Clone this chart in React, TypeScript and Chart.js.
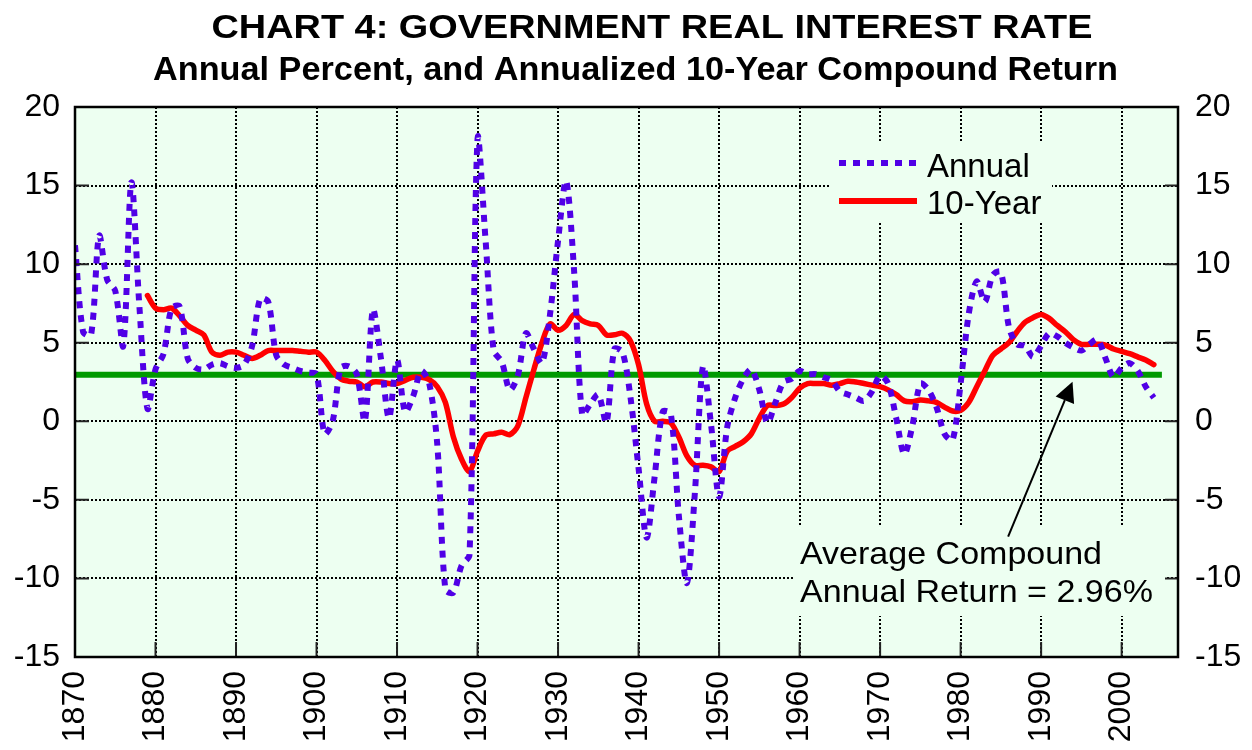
import React, { useEffect, useRef } from 'react';
import { Chart, registerables } from 'chart.js';

Chart.register(...registerables);

// ---------- DATA ----------
const ANNUAL_START_YEAR = 1870;
const annualRate = [
  11.2, 5.7, 5.5, 11.8, 9.0, 8.3, 4.8, 15.2, 7.3, 0.8, // 1870-1879
  3.3, 4.3, 7.2, 7.3, 4.0, 3.4, 3.3, 3.6, 3.7, 3.5, // 1880-1889
  3.4, 3.6, 4.8, 7.8, 7.6, 4.2, 3.6, 3.4, 3.2, 3.1, // 1890-1899
  3.0, -0.8, 0.0, 3.4, 3.5, 3.0, 0.0, 7.1, 4.0, 0.2, // 1900-1909
  3.9, 0.6, 1.6, 3.2, 2.4, -1.5, -10.7, -10.9, -9.2, -8.5, // 1910-1919
  18.0, 11.5, 4.5, 3.8, 2.0, 2.9, 5.6, 4.6, 3.7, 6.8, // 1920-1929
  11.5, 15.3, 9.5, 0.4, 1.1, 1.7, -0.1, 4.6, 4.4, 1.5, // 1930-1939
  -3.0, -7.4, -3.5, 0.6, 0.5, -6.0, -10.3, -4.5, 3.5, -0.2, // 1940-1949
  -4.8, -0.4, 1.5, 2.7, 3.3, 2.0, -0.1, 1.2, 2.5, 2.7, // 1950-1959
  3.2, 3.0, 3.0, 2.8, 2.6, 1.9, 1.7, 1.5, 1.3, 1.9, // 1960-1969
  2.9, 2.4, 0.2, -2.1, -0.3, 2.4, 2.0, 0.9, -0.8, -1.2, // 1970-1979
  2.4, 6.8, 8.9, 7.6, 9.3, 9.5, 6.0, 4.9, 4.8, 4.1, // 1980-1989
  4.8, 5.6, 5.4, 5.0, 4.7, 4.5, 4.9, 5.2, 4.0, 2.8, // 1990-1999
  3.4, 3.7, 3.2, 2.2, 1.5, // 2000-2004
];

const TEN_YEAR_START_YEAR = 1879;
const tenYearReturn = [
  8.0, // 1879
  7.2, 7.1, 7.2, 6.7, 6.1, 5.8, 5.5, 4.4, 4.2, 4.4, // 1880-1889
  4.4, 4.2, 4.0, 4.2, 4.5, 4.5, 4.5, 4.5, 4.45, 4.4, // 1890-1899
  4.4, 3.9, 3.2, 2.7, 2.55, 2.5, 2.2, 2.5, 2.5, 2.4, // 1900-1909
  2.4, 2.6, 2.8, 2.8, 2.65, 2.2, 1.2, -1.0, -2.4, -3.2, // 1910-1919
  -1.9, -0.9, -0.8, -0.7, -0.85, -0.3, 1.5, 3.3, 5.0, 6.2, // 1920-1929
  5.8, 6.1, 6.8, 6.4, 6.2, 6.1, 5.5, 5.5, 5.6, 5.1, // 1930-1939
  3.6, 1.1, 0.0, 0.0, -0.1, -1.0, -2.2, -2.8, -2.8, -2.9, // 1940-1949
  -3.2, -1.9, -1.6, -1.3, -0.8, 0.2, 1.0, 1.0, 1.1, 1.5, // 1950-1959
  2.1, 2.4, 2.4, 2.4, 2.3, 2.4, 2.55, 2.5, 2.4, 2.3, // 1960-1969
  2.2, 2.0, 1.7, 1.3, 1.25, 1.35, 1.3, 1.2, 0.9, 0.65, // 1970-1979
  0.7, 1.2, 2.2, 3.2, 4.2, 4.6, 5.0, 5.7, 6.3, 6.6, // 1980-1989
  6.8, 6.55, 6.1, 5.7, 5.2, 4.9, 4.9, 4.9, 4.85, 4.6, // 1990-1999
  4.45, 4.3, 4.1, 3.9, 3.6, // 2000-2004
];

const averageReturn = 2.96;
const averageSpanYears = [1870, 2005];

const xTickYears = [1870, 1880, 1890, 1900, 1910, 1920, 1930, 1940, 1950, 1960, 1970, 1980, 1990, 2000];
const yTickValues = [-15, -10, -5, 0, 5, 10, 15, 20];
const X_MIN = 1870;
const X_MAX = 2007;
const Y_MIN = -15;
const Y_MAX = 20;

const titleText = 'CHART 4: GOVERNMENT REAL INTEREST RATE';
const subtitleText = 'Annual Percent, and Annualized 10-Year Compound Return';
const legendLabels = ['Annual', '10-Year'];
const noteLines = ['Average Compound', 'Annual Return = 2.96%'];

// ---------- STYLE ----------
const FONT = "'Liberation Sans', Arial, Helvetica, sans-serif";
const BLUE = '#5000E6';
const RED = '#FF0000';
const GREEN = '#009A00';
const PLOT_BG = '#EDFFF1';
const DOT_DASH = [7, 7];

function drawFittedText(
  ctx: CanvasRenderingContext2D,
  text: string,
  x: number,
  baseline: number,
  font: string,
  targetWidth: number,
  align: 'left' | 'center'
) {
  ctx.save();
  ctx.font = font;
  const w = ctx.measureText(text).width;
  const sx = targetWidth / w;
  ctx.translate(x, baseline);
  ctx.scale(sx, 1);
  ctx.textAlign = align;
  ctx.textBaseline = 'alphabetic';
  ctx.fillStyle = '#000';
  ctx.fillText(text, 0, 0);
  ctx.restore();
}

const decorPlugin = {
  id: 'decor',
  beforeDraw(chart: any) {
    const { ctx, chartArea: a } = chart;
    ctx.save();
    ctx.fillStyle = '#FFFFFF';
    ctx.fillRect(0, 0, chart.width, chart.height);
    ctx.fillStyle = PLOT_BG;
    ctx.fillRect(a.left, a.top, a.right - a.left, a.bottom - a.top);
    ctx.restore();
  },
  afterDraw(chart: any) {
    const { ctx, chartArea: a } = chart;
    const xs = chart.scales.x;
    const ys = chart.scales.y;

    // Legend box
    ctx.save();
    ctx.fillStyle = PLOT_BG;
    ctx.fillRect(829, 141, 223, 81);
    ctx.lineWidth = 6;
    ctx.strokeStyle = BLUE;
    ctx.setLineDash(DOT_DASH);
    ctx.beginPath();
    ctx.moveTo(839, 163);
    ctx.lineTo(918, 163);
    ctx.stroke();
    ctx.setLineDash([]);
    ctx.strokeStyle = RED;
    ctx.beginPath();
    ctx.moveTo(839, 201);
    ctx.lineTo(917, 201);
    ctx.stroke();
    ctx.fillStyle = '#000';
    ctx.font = `33px ${FONT}`;
    ctx.textAlign = 'left';
    ctx.textBaseline = 'alphabetic';
    ctx.fillText(legendLabels[0], 927, 177);
    ctx.fillText(legendLabels[1], 927, 214);
    ctx.restore();

    // Annotation box
    ctx.save();
    ctx.fillStyle = PLOT_BG;
    ctx.fillRect(793, 525, 372, 91);
    ctx.restore();
    drawFittedText(ctx, noteLines[0], 800, 564, `32px ${FONT}`, 302, 'left');
    drawFittedText(ctx, noteLines[1], 800, 602, `32px ${FONT}`, 353, 'left');

    // Arrow pointing to the average line
    const tipX = xs.getPixelForValue(1993.9);
    const tipY = ys.getPixelForValue(averageReturn) + 7;
    const tailX = xs.getPixelForValue(1985.9);
    const tailY = ys.getPixelForValue(-7.34);
    const dx = tipX - tailX;
    const dy = tipY - tailY;
    const len = Math.hypot(dx, dy);
    const ux = dx / len;
    const uy = dy / len;
    const headLen = 20;
    const headHalf = 10;
    const bx = tipX - ux * headLen;
    const by = tipY - uy * headLen;
    ctx.save();
    ctx.strokeStyle = '#000';
    ctx.lineWidth = 2;
    ctx.beginPath();
    ctx.moveTo(tailX, tailY);
    ctx.lineTo(bx, by);
    ctx.stroke();
    ctx.fillStyle = '#000';
    ctx.beginPath();
    ctx.moveTo(tipX, tipY);
    ctx.lineTo(bx - uy * headHalf, by + ux * headHalf);
    ctx.lineTo(bx + uy * headHalf, by - ux * headHalf);
    ctx.closePath();
    ctx.fill();
    ctx.restore();

    // Inside tick marks
    ctx.save();
    ctx.strokeStyle = '#222';
    ctx.lineWidth = 2;
    ctx.beginPath();
    yTickValues.forEach((v) => {
      const py = ys.getPixelForValue(v);
      ctx.moveTo(a.left, py);
      ctx.lineTo(a.left + 14, py);
      ctx.moveTo(a.right - 13, py);
      ctx.lineTo(a.right, py);
    });
    xTickYears.forEach((yr) => {
      const px = xs.getPixelForValue(yr);
      ctx.moveTo(px, a.bottom);
      ctx.lineTo(px, a.bottom - 15);
    });
    ctx.stroke();
    ctx.restore();

    // Plot frame
    ctx.save();
    ctx.strokeStyle = '#000';
    ctx.lineWidth = 2.5;
    ctx.strokeRect(a.left, a.top, a.right - a.left, a.bottom - a.top);
    ctx.restore();

    // Titles
    drawFittedText(ctx, titleText, 652, 38, `bold 32.5px ${FONT}`, 881, 'center');
    drawFittedText(ctx, subtitleText, 635.5, 80, `bold 32.5px ${FONT}`, 965, 'center');
  },
};

export default function App() {
  const canvasRef = useRef<HTMLCanvasElement | null>(null);

  useEffect(() => {
    const canvas = canvasRef.current;
    if (!canvas) return;

    const annualPoints = annualRate.map((v, i) => ({ x: ANNUAL_START_YEAR + i, y: v }));
    const tenYearPoints = tenYearReturn.map((v, i) => ({ x: TEN_YEAR_START_YEAR + i, y: v }));
    const averagePoints = averageSpanYears.map((yr) => ({ x: yr, y: averageReturn }));

    const tickFont = { family: FONT, size: 32 };

    const chart = new Chart(canvas, {
      type: 'line',
      data: {
        datasets: [
          {
            label: legendLabels[0],
            data: annualPoints,
            borderColor: BLUE,
            borderWidth: 6,
            borderDash: DOT_DASH,
            pointRadius: 0,
            tension: 0.3,
            fill: false,
            order: 1,
          },
          {
            label: legendLabels[1],
            data: tenYearPoints,
            borderColor: RED,
            borderWidth: 5.5,
            borderJoinStyle: 'round',
            borderCapStyle: 'round',
            pointRadius: 0,
            tension: 0.3,
            fill: false,
            order: 2,
          },
          {
            label: 'Average',
            data: averagePoints,
            borderColor: GREEN,
            borderWidth: 6,
            pointRadius: 0,
            fill: false,
            order: 3,
          },
        ],
      },
      options: {
        responsive: false,
        animation: false,
        events: [],
        layout: { padding: { top: 107, left: 0, right: 0, bottom: 0 } },
        plugins: {
          legend: { display: false },
          tooltip: { enabled: false },
          title: { display: false },
        },
        scales: {
          x: {
            type: 'linear',
            position: 'bottom',
            min: X_MIN,
            max: X_MAX,
            afterBuildTicks: (s: any) => {
              s.ticks = xTickYears.map((v) => ({ value: v }));
            },
            afterFit: (s: any) => {
              s.height = 93;
            },
            ticks: {
              autoSkip: false,
              minRotation: 90,
              maxRotation: 90,
              padding: 14,
              color: '#000',
              font: tickFont,
              callback: (v: any) => String(v),
            },
            grid: { color: '#000', lineWidth: 2, drawTicks: false },
            border: { display: false, dash: [2, 2] },
          },
          y: {
            type: 'linear',
            position: 'left',
            min: Y_MIN,
            max: Y_MAX,
            afterBuildTicks: (s: any) => {
              s.ticks = yTickValues.map((v) => ({ value: v }));
            },
            afterFit: (s: any) => {
              s.width = 75;
            },
            ticks: {
              padding: 15,
              color: '#000',
              font: tickFont,
              callback: (v: any) => String(v),
            },
            grid: { color: '#000', lineWidth: 2, drawTicks: false },
            border: { display: false, dash: [2, 2] },
          },
          y2: {
            type: 'linear',
            position: 'right',
            min: Y_MIN,
            max: Y_MAX,
            afterBuildTicks: (s: any) => {
              s.ticks = yTickValues.map((v) => ({ value: v }));
            },
            afterFit: (s: any) => {
              s.width = 74;
            },
            ticks: {
              padding: 17,
              color: '#000',
              font: tickFont,
              callback: (v: any) => String(v),
            },
            grid: { drawOnChartArea: false, drawTicks: false },
            border: { display: false },
          },
        },
      },
      plugins: [decorPlugin],
    } as any);

    return () => {
      chart.destroy();
    };
  }, []);

  return (
    <div
      style={{
        position: 'fixed',
        left: 0,
        top: 0,
        width: 1252,
        height: 750,
        background: '#fff',
      }}
    >
      <canvas ref={canvasRef} width={1252} height={750} style={{ width: 1252, height: 750, display: 'block' }} />
    </div>
  );
}
